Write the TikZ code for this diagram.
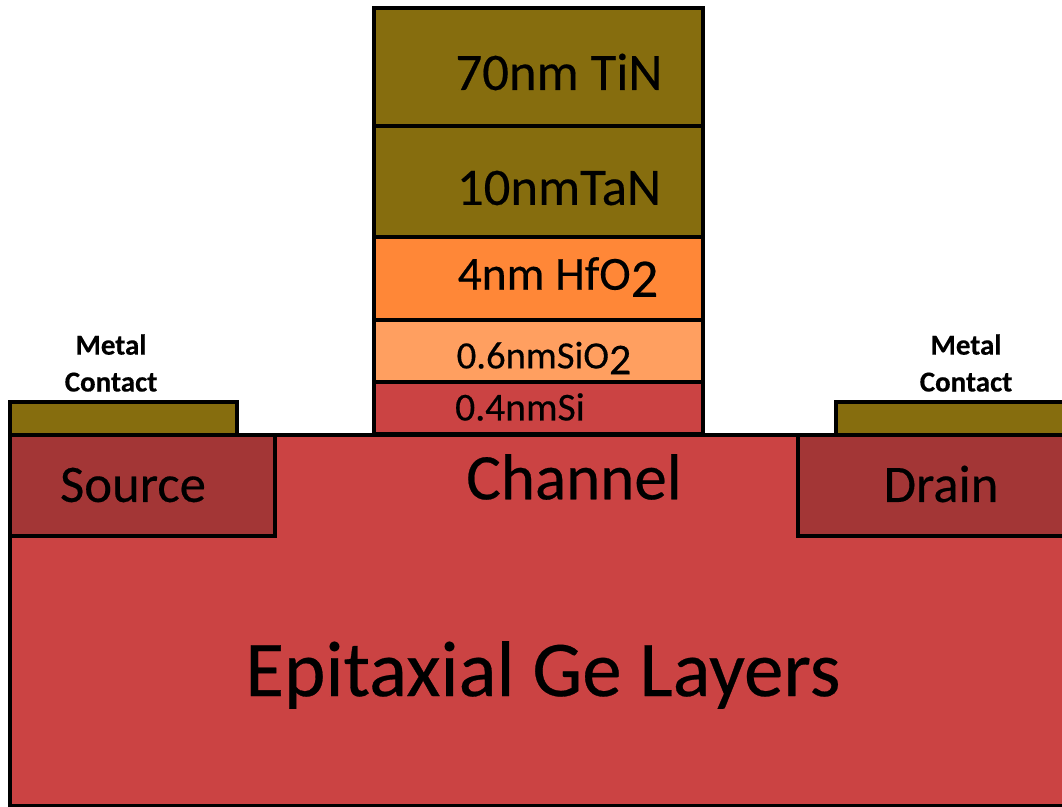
\documentclass[tikz,border=0pt]{standalone}
\usepackage{fontspec}
\setmainfont[FakeBold=0.35]{Carlito}
\usepackage{tikz}
\definecolor{metal}{HTML}{866D0E}
\definecolor{oxide}{HTML}{FF8737}
\definecolor{thinox}{HTML}{FF9F60}
\definecolor{germ}{HTML}{CB4343}
\definecolor{doped}{HTML}{A33636}
\tikzstyle{layer} = [rectangle, draw=black, line width=2.5pt, outer sep=0pt, anchor=north west, inner sep=0pt]
\tikzstyle{lbl} = [inner sep=0pt, text=black]
\newcommand{\fs}[1]{\fontsize{#1}{#1}\selectfont}
\newcommand{\subtwo}[1]{\raisebox{-0.15em}{\fontsize{#1}{#1}\selectfont 2}}

\begin{document}
\begin{tikzpicture}[x=0.02cm,y=-0.02cm]
  \useasboundingbox (0,0) rectangle (1062,807);
  \fill[white] (0,0) rectangle (1062,807);

  % substrate and wells
  \node[layer, fill=germ, minimum width=1060*0.02cm, minimum height=371*0.02cm] (Sub) at (10,435) {};
  \node[layer, fill=doped, minimum width=265*0.02cm, minimum height=101*0.02cm] (Src) at (10,435) {};
  \node[layer, fill=doped, minimum width=270*0.02cm, minimum height=101*0.02cm] (Drn) at (798,435) {};

  % contacts
  \node[layer, fill=metal, minimum width=227*0.02cm, minimum height=33*0.02cm] (CL) at (10,402) {};
  \node[layer, fill=metal, minimum width=232*0.02cm, minimum height=33*0.02cm] (CR) at (836,402) {};

  % gate stack
  \node[layer, fill=metal, minimum width=329*0.02cm, minimum height=118*0.02cm] (TiN) at (374,8) {};
  \node[layer, fill=metal, minimum width=329*0.02cm, minimum height=111*0.02cm] (TaN) at (374,126) {};
  \node[layer, fill=oxide, minimum width=329*0.02cm, minimum height=83*0.02cm] (HfO) at (374,237) {};
  \node[layer, fill=thinox, minimum width=329*0.02cm, minimum height=62*0.02cm] (SiO) at (374,320) {};
  \node[layer, fill=germ, minimum width=329*0.02cm, minimum height=52*0.02cm] (Si) at (374,382) {};

  % labels
  \node[lbl] (tTiN) at (559,72) {\fs{30}70nm TiN};
  \node[lbl] (tTaN) at (559,188) {\fs{30}10nmTaN};
  \node[lbl] (tHfO) at (558,277) {\fs{27}4nm HfO\subtwo{31}};
  \node[lbl] (tSiO) at (544,358) {\fs{22}0.6nmSiO\subtwo{25}};
  \node[lbl] (tSi) at (520,407) {\fs{22.5}0.4nmSi};
  \node[lbl] (tCh) at (574,477) {\fs{37}Channel};
  \node[lbl] (tSrc) at (133,485) {\fs{30}Source};
  \node[lbl] (tDrn) at (941,484) {\fs{30}Drain};
  \node[lbl] (tGe) at (543,675) {\fs{45}Epitaxial Ge Layers};
  \node[lbl, align=center, font=\bfseries\fs{16.5}] (tCL) at (111,363) {Metal\\[4.5pt]Contact};
  \node[lbl, align=center, font=\bfseries\fs{16.5}] (tCR) at (966,363) {Metal\\[4.5pt]Contact};
\end{tikzpicture}
\end{document}
